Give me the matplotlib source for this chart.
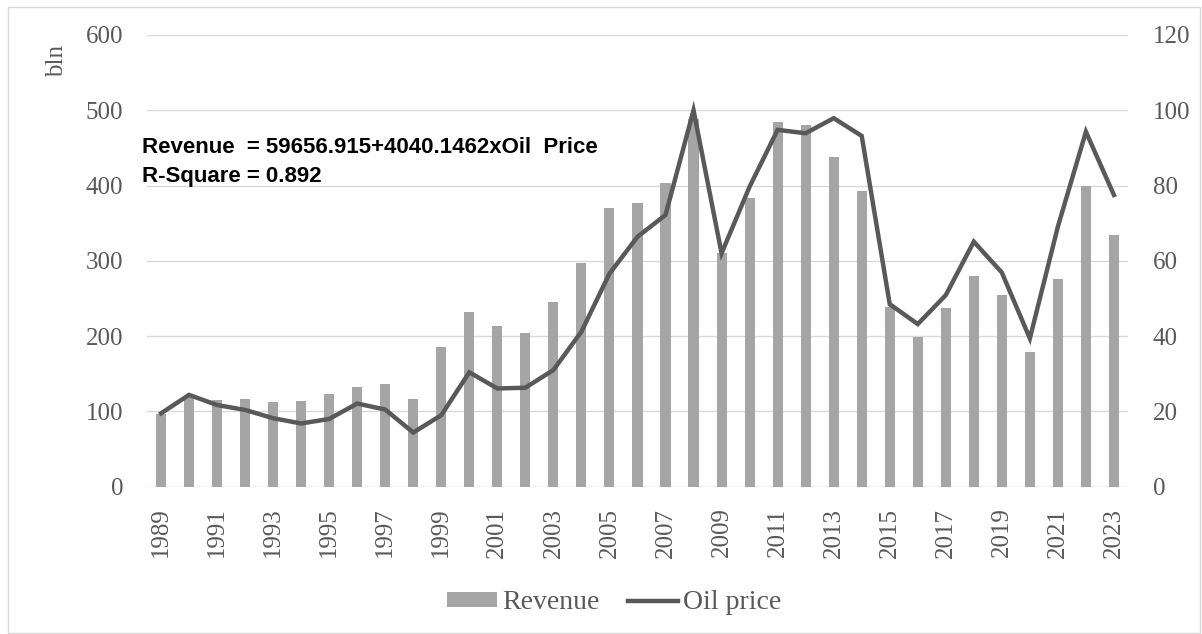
import matplotlib.pyplot as plt
from matplotlib.patches import Rectangle

# data
years = list(range(1989, 2024))
revenue = [97, 121, 115, 117, 112, 114, 123, 133, 137, 117,
           186, 232, 213, 204, 246, 297, 370, 377, 404, 488,
           310, 383, 485, 480, 438, 393, 239, 199, 237, 280,
           255, 179, 276, 399, 334]
oil_price = [19.5, 24.4, 21.7, 20.4, 18.2, 16.8, 18.0, 22.1, 20.5, 14.4,
             19.0, 30.4, 26.1, 26.3, 31.0, 41.2, 56.6, 66.4, 72.2, 100.0,
             62.0, 79.7, 94.8, 93.9, 97.9, 93.2, 48.5, 43.2, 50.9, 65.1,
             56.9, 39.4, 69.1, 94.3, 77.5]
year_labels = [str(y) if (y - 1989) % 2 == 0 else '' for y in years]

bar_color = '#A5A5A5'
line_color = '#595959'
text_color = '#595959'
grid_color = '#D9D9D9'
serif = 'Liberation Serif'

fig = plt.figure(figsize=(12.02, 6.34), dpi=100)
fig.patches.append(Rectangle((8 / 1202, 1 / 634), 1192 / 1202, 626 / 634,
                             transform=fig.transFigure, fill=False,
                             edgecolor=grid_color, linewidth=1))

ax = fig.add_axes([0.1223, 0.2323, 0.8161, 0.7125])
x = list(range(len(years)))

ax.bar(x, revenue, width=0.36, color=bar_color, label='Revenue', zorder=2)
ax.set_ylim(0, 600)
ax.set_xlim(-0.5, len(years) - 0.5)
ax.set_yticks(range(0, 601, 100))
ax.set_xticks(x)
ax.set_xticklabels(year_labels, rotation=90)
ax.grid(axis='y', color=grid_color, linewidth=1, zorder=0)
ax.set_axisbelow(True)
for s in ax.spines.values():
    s.set_visible(False)
ax.tick_params(axis='both', length=0, labelcolor=text_color, labelsize=18)
ax.tick_params(axis='y', pad=17)
ax.tick_params(axis='x', pad=15)
for lab in ax.get_xticklabels() + ax.get_yticklabels():
    lab.set_fontfamily(serif)

ax2 = ax.twinx()
ax2.plot(x, oil_price, color=line_color, linewidth=3.2, label='Oil price',
         solid_joinstyle='miter', zorder=3)
ax2.set_ylim(0, 120)
ax2.set_yticks(range(0, 121, 20))
for s in ax2.spines.values():
    s.set_visible(False)
ax2.tick_params(axis='y', length=0, labelcolor=text_color, labelsize=18, pad=18)
for lab in ax2.get_yticklabels():
    lab.set_fontfamily(serif)

fig.text(57 / 1202, 1 - 61 / 634, 'bln', rotation=90, ha='center', va='center',
         fontsize=18, color=text_color, family=serif)

# regression annotation
ax.text(-0.69, 443, 'Revenue  = 59656.915+4040.1462xOil  Price', fontsize=16,
        fontweight='bold', family='Liberation Sans', color='black',
        va='baseline', ha='left', zorder=5)
ax.text(-0.69, 405, 'R-Square = 0.892', fontsize=16,
        fontweight='bold', family='Liberation Sans', color='black',
        va='baseline', ha='left', zorder=5)

h1, l1 = ax.get_legend_handles_labels()
h2, l2 = ax2.get_legend_handles_labels()
leg = fig.legend(h1 + h2, l1 + l2, loc='center', bbox_to_anchor=(0.511, 0.049),
                 ncol=2, frameon=False, handlelength=1.8, handleheight=0.5,
                 handletextpad=0.2, columnspacing=1.0,
                 prop={'family': serif, 'size': 20})
for t in leg.get_texts():
    t.set_color(text_color)

fig.savefig('out.png', dpi=100)
